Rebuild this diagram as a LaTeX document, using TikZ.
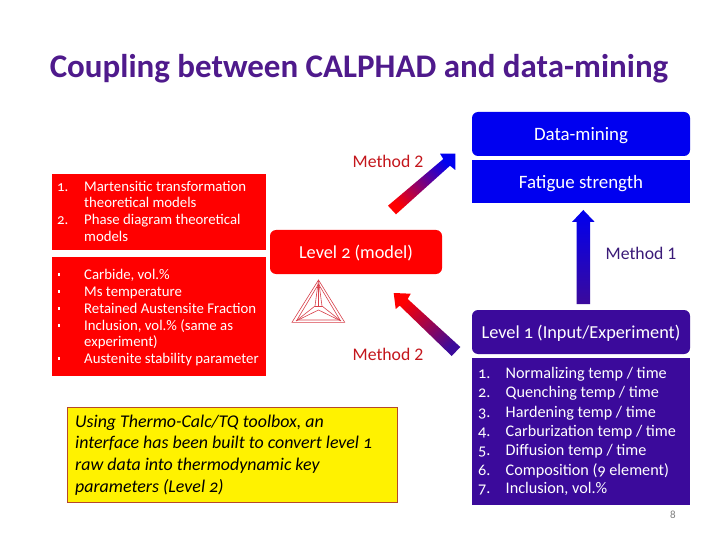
\documentclass[tikz,border=0pt]{standalone}
\usepackage{fontspec}
\setmainfont{Carlito}
\newfontfamily\oldnum[Numbers=OldStyle]{Carlito}
\definecolor{blueb}{HTML}{0000F0}
\definecolor{purpb}{HTML}{3B0A9B}
\definecolor{redb}{HTML}{FF0000}
\definecolor{titlec}{HTML}{4F1A8C}
\definecolor{methodr}{HTML}{C4161C}
\definecolor{methodp}{HTML}{3A1A78}
\definecolor{logoc}{HTML}{D8404A}
\definecolor{yellowedge}{HTML}{B5482A}
\tikzset{
  x=1pt,y=-1pt,
  lab/.style={text=white,font=\oldnum\fontsize{18.9}{22}\selectfont,inner sep=0pt,yshift=-2pt},
  labl/.style={text=white,font=\oldnum\fontsize{18.3}{22}\selectfont,inner sep=0pt,yshift=-1pt},
  meth/.style={font=\fontsize{17.7}{20}\selectfont,inner sep=0pt},
  rowr/.style={anchor=mid west,text=white,font=\oldnum\fontsize{14.8}{17}\selectfont,inner sep=0pt,yshift=-2.5pt},
  rowp/.style={anchor=mid west,text=white,font=\oldnum\fontsize{16.2}{19}\selectfont,inner sep=0pt,yshift=-2.5pt},
  rowy/.style={anchor=mid west,text=black,font=\oldnum\itshape\fontsize{17.9}{21}\selectfont,inner sep=0pt,yshift=-2.5pt},
  bull/.style={fill=white,inner sep=0pt,minimum size=2.6pt},
  logoline/.style={draw=logoc,line width=0.6pt},
}
\begin{document}
\begin{tikzpicture}
\useasboundingbox (0,0) rectangle (720,540);
\fill[white] (0,0) rectangle (720,540);
\node[anchor=mid,text=titlec,font=\bfseries\fontsize{33}{38}\selectfont,inner sep=0pt] (title) at (359,75) {Coupling between CALPHAD and data-mining};
% blue boxes
\fill[blueb,rounded corners=6pt] (472,112) rectangle (690,156);
\node[lab] (dm) at (581,134) {Data-mining};
\fill[blueb] (472,160) rectangle (690,203);
\node[lab] (fs) at (581,182) {Fatigue strength};
% purple boxes
\fill[purpb,rounded corners=6pt] (472,310) rectangle (690,354);
\node[labl] (l1) at (581,332) {Level 1 (Input/Experiment)};
\fill[purpb] (472,358) rectangle (690,505);
% red boxes
\fill[redb] (52,174) rectangle (266,250);
\fill[redb] (52,257) rectangle (266,376);
\fill[redb,rounded corners=6pt] (270,230) rectangle (442,274);
\node[labl] (l2) at (356,252) {Level 2 (model)};
% yellow
\fill[yellow,draw=yellowedge,line width=0.8pt] (67,407) rectangle (397,502);
% arrows
\shade[left color=redb,right color=blueb,shading angle=131]
 (388,205.7) -- (443.3,159) -- (440,153.7) -- (455.3,153.7) -- (455.3,170) -- (450,165.7) -- (396,214.3) -- cycle;
\shade[left color=redb,right color=purpb,shading angle=45]
 (393.7,293) -- (410.7,293.7) -- (407.7,299) -- (460.3,347) -- (451.7,356) -- (399.7,305.7) -- (395.7,309) -- cycle;
\shade[top color=blueb,bottom color=purpb]
 (583.3,210) -- (594.7,222) -- (590,222) -- (590,304) -- (576.7,304) -- (576.7,222) -- (572,222) -- cycle;
% method labels
\node[meth,text=methodr] (m2a) at (388,161) {Method 2};
\node[meth,text=methodr] (m2b) at (388,354) {Method 2};
\node[meth,text=methodp] (m1) at (641,253) {Method 1};
% list A
\node[rowr] (a1n) at (57,186.5) {1.};
\node[rowr] (a1) at (84,186.5) {Martensitic transformation};
\node[rowr] (a1b) at (84,203) {theoretical models};
\node[rowr] (a2n) at (57,220) {2.};
\node[rowr] (a2) at (84,220) {Phase diagram theoretical};
\node[rowr] (a2b) at (84,237) {models};
% list B
\node[bull] (b1n) at (59,274.5) {};
\node[rowr] (b1) at (84,274.5) {Carbide, vol.\%};
\node[bull] (b2n) at (59,291.5) {};
\node[rowr] (b2) at (84,291.5) {Ms temperature};
\node[bull] (b3n) at (59,308.5) {};
\node[rowr] (b3) at (84,308.5) {Retained Austensite Fraction};
\node[bull] (b4n) at (59,325.5) {};
\node[rowr] (b4) at (84,325.5) {Inclusion, vol.\% (same as};
\node[rowr] (b4b) at (84,342) {experiment)};
\node[bull] (b5n) at (59,358.5) {};
\node[rowr] (b5) at (84,358.5) {Austenite stability parameter};
% list C
\node[rowp] (c1n) at (478,374) {1.};
\node[rowp] (c1) at (505.5,374) {Normalizing temp / time};
\node[rowp] (c2n) at (478,393) {2.};
\node[rowp] (c2) at (505.5,393) {Quenching temp / time};
\node[rowp] (c3n) at (478,412.5) {3.};
\node[rowp] (c3) at (505.5,412.5) {Hardening temp / time};
\node[rowp] (c4n) at (478,432) {4.};
\node[rowp] (c4) at (505.5,432) {Carburization temp / time};
\node[rowp] (c5n) at (478,451) {5.};
\node[rowp] (c5) at (505.5,451) {Diffusion temp / time};
\node[rowp] (c6n) at (478,470.5) {6.};
\node[rowp] (c6) at (505.5,470.5) {Composition (9 element)};
\node[rowp] (c7n) at (478,489) {7.};
\node[rowp] (c7) at (505.5,489) {Inclusion, vol.\%};
% yellow text
\node[rowy] (y1) at (75,422.5) {Using Thermo-Calc/TQ toolbox, an};
\node[rowy] (y2) at (75,444) {interface has been built to convert level 1};
\node[rowy] (y3) at (75,465.5) {raw data into thermodynamic key};
\node[rowy] (y4) at (75,487.5) {parameters (Level 2)};
% page number
\node[text=gray,font=\fontsize{11}{13}\selectfont,inner sep=0pt] (pg) at (673,515) {8};
% logo
\draw[logoline] (318.5,280) -- (292,322.3) -- (344.7,322.3) -- cycle;
\draw[logoline] (318.5,284) -- (297,320) -- (340,320) -- cycle;
\draw[logoline] (318.5,280) -- (315,306) -- (296,321);
\draw[logoline] (318.5,280) -- (322,306) -- (341,321);
\draw[logoline] (315,306) -- (322,306);
\draw[logoline] (318.5,284) -- (318.5,306);
\draw[logoline] (296,321) -- (318.5,310) -- (341,321);
\end{tikzpicture}
\end{document}
